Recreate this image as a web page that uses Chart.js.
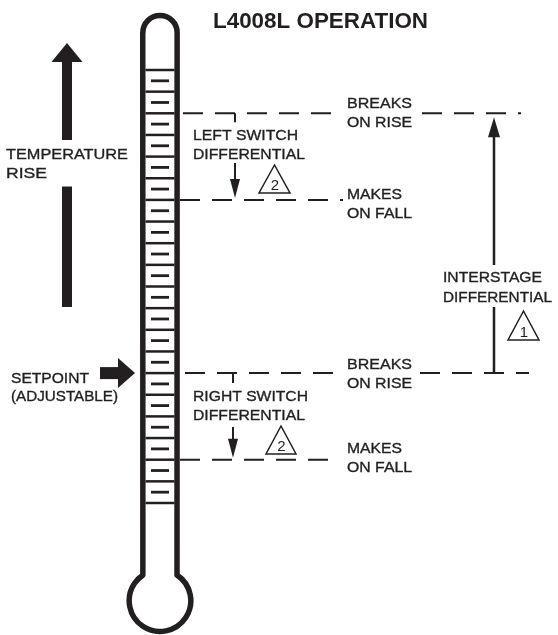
<!DOCTYPE html>
<html><head><meta charset="utf-8">
<script src="https://cdn.jsdelivr.net/npm/chart.js@4/dist/chart.umd.min.js"></script>
<style>html,body{margin:0;padding:0;background:#fff;overflow:hidden}canvas{display:block}</style>
</head><body>
<canvas id="c" width="558" height="635"></canvas>
<script>
// ---------------- DATA ----------------
// thermometer scale divisions (one unit = one box on the stem)
const scaleDivisions = [0,1,2,3,4,5,6,7,8,9,10,11,12,13,14,15,16,17,18,19,20];
const boxMarks = [0.5,1.5,2.5,3.5,4.5,5.5,6.5,7.5,8.5,9.5,10.5,11.5,12.5,13.5,14.5,15.5,16.5,17.5,18.5,19.5];
// switch operating points (in scale divisions)
const switchLevels = [18, 14, 6, 2];
const switchEvents = [['BREAKS','ON RISE'],['MAKES','ON FALL'],['BREAKS','ON RISE'],['MAKES','ON FALL']];
const setpointLevel = 6;
const titleText = 'L4008L OPERATION';
const riseText = ['TEMPERATURE','RISE'];
const setpointText = ['SETPOINT','(ADJUSTABLE)'];
const switchDiffText = [['LEFT SWITCH','DIFFERENTIAL'],['RIGHT SWITCH','DIFFERENTIAL']];
const interstageText = ['INTERSTAGE','DIFFERENTIAL'];
const noteNumbers = ['2','2','1'];

// ---------------- LAYOUT / STYLE (pixels) ----------------
const INK = '#231f20';
const FONT = '"Liberation Sans", Arial, Helvetica, sans-serif';
const L = {
  tube:{cx:160, left:142.75, right:177, top:15.5, wall:5.5, bulbCy:600.7, bulbR:30.8, bulbWall:5},
  spans:[[[183,333],[422,521]], [[180,343]], [[185,333],[420,529]], [[180,330]]],
  title:{x:213, y:28, w:215, size:22},
  rise:{x:6, y:[158.5,177.5], w:[122,41]},
  riseArrow:{x:67, half:5, tip:43, headBase:62, headHalf:15.5, seg:[[62,140],[187,307]]},
  setpoint:{x:11, y:[383,401], w:[78,107]},
  setArrow:{x0:100, x1:118, tip:135, shaftHalf:6, headHalf:15},
  diff:[{x:193, y:[140,159], w:[105,112], ax:235, tick:9, stem:163, headLen:19, headHalf:5},
        {x:193, y:[401,420], w:[115,112], ax:233, tick:10, stem:427, headLen:19, headHalf:5}],
  events:[{x:347,y:[108,127],w:[65,65]},{x:347,y:[199,218],w:[55,65]},
          {x:347,y:[369,388],w:[65,65]},{x:347,y:[453,472],w:[55,65]}],
  inter:{x:443, y:[282,302], w:[99,109], ax:494, tipGap:4, headLen:20, headHalf:6, gap:[265,307]},
  tri:[{cx:274.5, apex:165, base:193, half:15.5},{cx:281, apex:426, base:454, half:15},{cx:523.5, apex:311, base:340, half:15.5}],
  size:15, digit:15
};

// ---------------- PLUGINS ----------------
function px(chart){
  const X=v=>chart.scales.x.getPixelForValue(v);
  const T=v=>chart.scales.y.getPixelForValue(v);
  const P=v=>chart.scales.py.getPixelForValue(v);
  return {X,T,P};
}
function fitText(ctx, txt, x, y, w, size, bold){
  ctx.font = (bold?'bold ':'') + size + 'px ' + FONT;
  const m = ctx.measureText(txt).width;
  ctx.save(); ctx.translate(x,y); ctx.scale(w/m,1); ctx.fillText(txt,0,0);
  if(!bold){ ctx.lineWidth=0.35; ctx.strokeText(txt,0,0); }
  ctx.restore();
}
function arrowHead(ctx, x, tipY, baseY, half){
  ctx.beginPath(); ctx.moveTo(x, tipY); ctx.lineTo(x-half, baseY); ctx.lineTo(x+half, baseY); ctx.closePath(); ctx.fill();
}
const thermoPlugin = {
  id:'thermo',
  beforeDatasetsDraw(chart){
    const {X,P} = px(chart); const ctx = chart.ctx; const t = L.tube;
    const cx=X(t.cx), lx=X(t.left), rx=X(t.right), r=(rx-lx)/2, topC=P(t.top)+r;
    const by=P(t.bulbCy), br=t.bulbR, dy=Math.sqrt(br*br-r*r), a=Math.atan2(-dy,r);
    ctx.save();
    ctx.fillStyle='#fff'; ctx.strokeStyle=INK; ctx.lineWidth=t.wall; ctx.lineJoin='round';
    ctx.beginPath();
    ctx.moveTo(lx, topC);
    ctx.arc(cx, topC, r, Math.PI, 0);
    ctx.lineTo(rx, by-dy);
    ctx.arc(cx, by, br, a, Math.PI-a);
    ctx.closePath();
    ctx.fill(); ctx.stroke();
    ctx.restore();
  }
};
const notesPlugin = {
  id:'notes',
  afterDatasetsDraw(chart){
    const {X,T,P} = px(chart); const ctx = chart.ctx;
    ctx.save();
    ctx.fillStyle=INK; ctx.strokeStyle=INK; ctx.textBaseline='alphabetic'; ctx.textAlign='left';
    fitText(ctx, titleText, X(L.title.x), P(L.title.y), L.title.w, L.title.size, true);
    const ra=L.riseArrow;
    arrowHead(ctx, X(ra.x), P(ra.tip), P(ra.headBase), ra.headHalf);
    ra.seg.forEach(([a,b])=>ctx.fillRect(X(ra.x)-ra.half, P(a)-0.5, ra.half*2, P(b)-P(a)+0.5));
    riseText.forEach((s,i)=>fitText(ctx, s, X(L.rise.x), P(L.rise.y[i]), L.rise.w[i], L.size));
    const sa=L.setArrow, sy=T(setpointLevel);
    ctx.fillRect(X(sa.x0), sy-sa.shaftHalf, X(sa.x1)-X(sa.x0)+0.5, sa.shaftHalf*2);
    ctx.beginPath(); ctx.moveTo(X(sa.tip), sy); ctx.lineTo(X(sa.x1), sy-sa.headHalf); ctx.lineTo(X(sa.x1), sy+sa.headHalf); ctx.closePath(); ctx.fill();
    setpointText.forEach((s,i)=>fitText(ctx, s, X(L.setpoint.x), P(L.setpoint.y[i]), L.setpoint.w[i], L.size));
    L.diff.forEach((d,k)=>{
      const top=T(switchLevels[2*k]), bot=T(switchLevels[2*k+1]);
      const x=X(d.ax);
      ctx.lineWidth=2;
      ctx.beginPath(); ctx.moveTo(x, top); ctx.lineTo(x, top+d.tick); ctx.stroke();
      const tip=bot-2;
      ctx.beginPath(); ctx.moveTo(x, P(d.stem)); ctx.lineTo(x, tip-d.headLen+1); ctx.stroke();
      arrowHead(ctx, x, tip, tip-d.headLen, d.headHalf);
      switchDiffText[k].forEach((s,i)=>fitText(ctx, s, X(d.x), P(d.y[i]), d.w[i], L.size));
    });
    L.events.forEach((e,k)=>switchEvents[k].forEach((s,i)=>fitText(ctx, s, X(e.x), P(e.y[i]), e.w[i], L.size)));
    const it=L.inter, ix=X(it.ax), itop=T(switchLevels[0])+it.tipGap, ibot=T(switchLevels[2]);
    arrowHead(ctx, ix, itop, itop+it.headLen, it.headHalf);
    ctx.lineWidth=2.5;
    ctx.beginPath(); ctx.moveTo(ix, itop+it.headLen-1); ctx.lineTo(ix, P(it.gap[0]));
    ctx.moveTo(ix, P(it.gap[1])); ctx.lineTo(ix, ibot); ctx.stroke();
    interstageText.forEach((s,i)=>fitText(ctx, s, X(it.x), P(it.y[i]), it.w[i], L.size));
    ctx.lineJoin='miter';
    L.tri.forEach((tr,k)=>{
      const cx=X(tr.cx), ap=P(tr.apex), ba=P(tr.base);
      ctx.lineWidth=1.5;
      ctx.beginPath(); ctx.moveTo(cx, ap); ctx.lineTo(cx-tr.half, ba); ctx.lineTo(cx+tr.half, ba); ctx.closePath(); ctx.stroke();
      ctx.font=L.digit+'px '+FONT; ctx.textAlign='center';
      ctx.fillText(noteNumbers[k], cx+0.5, ba-3);
      ctx.textAlign='left';
    });
    ctx.restore();
  }
};

// ---------------- DATASETS ----------------
const datasets = [];
datasets.push({
  data: scaleDivisions.map(v=>({x:L.tube.cx, y:v})),
  pointStyle:'line', pointRadius:14.5, pointBorderWidth:2.5, pointBorderColor:INK, pointBackgroundColor:INK, showLine:false
});
datasets.push({
  data: boxMarks.map(v=>({x:L.tube.cx, y:v})),
  pointStyle:'line', pointRadius:9, pointBorderWidth:2.8, pointBorderColor:INK, pointBackgroundColor:INK, showLine:false
});
switchLevels.forEach((lv,i)=>L.spans[i].forEach(([a,b])=>datasets.push({
  data:[{x:a,y:lv},{x:b,y:lv}], showLine:true, borderColor:INK, borderWidth:2, borderDash:[20,12],
  pointRadius:0, fill:false
})));

new Chart(document.getElementById('c'), {
  type:'scatter',
  data:{datasets},
  options:{
    responsive:false, animation:false, events:[],
    layout:{padding:0, autoPadding:false},
    plugins:{legend:{display:false}, tooltip:{enabled:false}, title:{display:false}},
    scales:{
      x:{type:'linear', axis:'x', position:'bottom', min:0, max:558, display:false},
      y:{type:'linear', axis:'y', position:'left', min:-(635-503)/21.65, max:503/21.65, display:false},
      py:{type:'linear', axis:'y', position:'right', min:0, max:635, reverse:true, display:false}
    }
  },
  plugins:[thermoPlugin, notesPlugin]
});
</script>
</body></html>
